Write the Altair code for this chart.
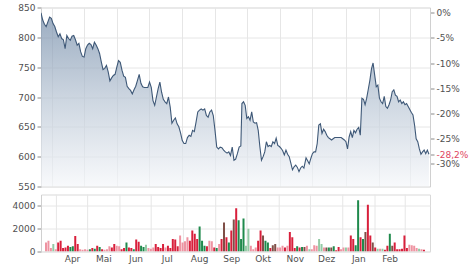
import altair as alt
import pandas as pd

# ---------------- data ----------------
x_start = "2023-03-22"
x_end = "2024-03-20"

# price trace, read in three stretches (start, end of each stretch)
seg_start = ["2023-03-22", "2023-09-26", "2023-11-25"]
seg_end = ["2023-09-25", "2023-11-23", "2024-03-19"]

close_a = [841, 829, 822, 818, 826, 834, 832, 823, 818, 809,
           801, 806, 798, 796, 781, 803, 798, 795, 802, 803,
           796, 787, 790, 776, 768, 767, 781, 787, 790, 788,
           781, 792, 787, 781, 773, 759, 746, 748, 753, 742,
           727, 732, 736, 738, 750, 761, 758, 745, 735, 733,
           718, 714, 711, 705, 712, 718, 728, 738, 723, 717,
           716, 716, 716, 725, 716, 694, 686, 700, 714, 725,
           708, 696, 692, 689, 700, 683, 656, 661, 665, 655,
           650, 640, 627, 622, 622, 632, 636, 634, 644, 642,
           658, 675, 678, 680, 678, 680, 669, 666, 675, 678,
           669, 644, 616, 613, 616, 615, 611, 608, 606, 608,
           602, 616, 594, 596, 605, 616, 618]
close_b = [689, 692, 686, 664, 667, 661, 675, 658, 656, 657,
           644, 617, 594, 600, 608, 625, 617, 619, 617, 625,
           622, 631, 619, 617, 614, 610, 603, 611, 604, 600,
           589, 578, 583, 586, 582, 575, 581, 584, 581]
close_c = [598, 593, 588, 597, 605, 608, 608, 622, 653, 655,
           639, 646, 642, 636, 632, 630, 628, 630, 632, 632,
           632, 632, 632, 630, 628, 625, 613, 633, 642, 632,
           644, 640, 646, 649, 636, 698, 696, 687, 698, 713,
           728, 747, 757, 737, 717, 720, 698, 692, 689, 701,
           684, 681, 687, 695, 709, 712, 703, 701, 692, 695,
           689, 692, 687, 689, 684, 679, 674, 670, 653, 630,
           625, 613, 604, 608, 611, 605, 611, 604]

volume = [800, 950, 300, 650, 200, 800, 950, 300, 350, 500,
          400, 450, 1350, 650, 200, 150, 200, 150, 200, 300,
          250, 500, 400, 200, 150, 200, 450, 350, 650, 500,
          450, 200, 300, 800, 350, 300, 200, 1050, 850, 500,
          400, 600, 300, 250, 350, 650, 400, 300, 650, 350,
          500, 300, 1100, 1050, 450, 1400, 800, 900, 1250, 950,
          1850, 1550, 1100, 2200, 950, 500, 450, 950, 900, 350,
          300, 650, 1100, 2550, 1250, 800, 1850, 2800, 3800, 2750,
          1100, 2900, 500, 2000, 500, 200, 350, 950, 1850, 1400,
          950, 800, 300, 550, 650, 350, 350, 500, 350, 500,
          1700, 1250, 300, 450, 350, 400, 400, 500, 200, 200,
          550, 500, 1100, 650, 350, 350, 350, 350, 450, 100,
          400, 200, 350, 350, 350, 1400, 1100, 550, 4500, 1250,
          1100, 1700, 4100, 1400, 800, 350, 250, 250, 250, 150,
          500, 1550, 500, 800, 200, 200, 250, 1400, 300, 600,
          550, 500, 300, 250, 200, 150]
vol_kind = ["p", "p", "p", "lg", "p", "r", "r", "r", "r", "r",
            "g", "g", "r", "r", "p", "p", "p", "p", "g", "r",
            "g", "r", "g", "r", "p", "p", "p", "r", "r", "p",
            "p", "r", "r", "g", "r", "r", "g", "r", "r", "g",
            "g", "lg", "p", "p", "p", "r", "r", "r", "r", "p",
            "r", "r", "r", "r", "r", "p", "p", "p", "p", "r",
            "r", "r", "r", "g", "g", "g", "r", "p", "p", "r",
            "g", "p", "r", "m", "r", "g", "r", "m", "r", "g",
            "g", "g", "lg", "lg", "p", "p", "p", "r", "r", "m",
            "g", "g", "r", "m", "m", "p", "p", "p", "r", "p",
            "r", "r", "r", "g", "r", "g", "m", "p", "lg", "p",
            "p", "p", "lg", "lg", "p", "m", "g", "m", "g", "r",
            "r", "p", "p", "lg", "p", "r", "r", "g", "g", "r",
            "g", "m", "r", "r", "m", "r", "lg", "p", "lg", "r",
            "r", "g", "m", "r", "r", "r", "r", "r", "r", "p",
            "p", "p", "p", "lg", "p", "r"]

month_starts = ["2023-04-01", "2023-05-01", "2023-06-01", "2023-07-01",
                "2023-08-01", "2023-09-01", "2023-10-01", "2023-11-01",
                "2023-12-01", "2024-01-01", "2024-02-01", "2024-03-01"]
month_mids = ["2023-04-16", "2023-05-16", "2023-06-16", "2023-07-16",
              "2023-08-16", "2023-09-16", "2023-10-16", "2023-11-16",
              "2023-12-16", "2024-01-16", "2024-02-15"]
month_names = ["Jan", "Feb", "Mär", "Apr", "Mai", "Jun",
               "Jul", "Aug", "Sep", "Okt", "Nov", "Dez"]

price_ticks = [550, 600, 650, 700, 750, 800, 850]
pct_ticks = [0, -0.05, -0.10, -0.15, -0.20, -0.25, -0.282, -0.30]
last_pct_label = "-28,2%"
vol_ticks = [0, 2000, 4000]

kind_names = ["r", "g", "p", "lg", "m"]
kind_colors = ["#d81f3b", "#1f8a4c", "#ee93a1", "#93caa5", "#7f4f47"]

# ---------------- frames ----------------
def dt(s):
    t = pd.Timestamp(s)
    return alt.DateTime(year=t.year, month=t.month, date=t.day)

parts = []
for s, e, vals in zip(seg_start, seg_end, [close_a, close_b, close_c]):
    parts.append(pd.DataFrame({"date": pd.date_range(s, e, periods=len(vals)),
                               "close": vals}))
price_df = pd.concat(parts, ignore_index=True)
base_price = close_a[0]

vol_df = pd.DataFrame({"date": pd.date_range(x_start, "2024-03-19", periods=len(volume)),
                       "volume": volume, "kind": vol_kind})
grid_df = pd.DataFrame({"date": pd.to_datetime(month_starts)})

x_dom = alt.Scale(domain=[dt(x_start), dt(x_end)])
W = 389

# ---------------- top panel ----------------
x_top = alt.X("date:T", scale=x_dom,
              axis=alt.Axis(values=[dt(m) for m in month_starts], grid=True,
                            labels=False, ticks=False, domain=False, title=None))

gradient = alt.Gradient(gradient="linear", x1=0, y1=0, x2=0, y2=1,
                        stops=[alt.GradientStop(color="#6f88a6", offset=0),
                               alt.GradientStop(color="#b8c5d4", offset=0.5),
                               alt.GradientStop(color="#f5f7fa", offset=1)])

area = alt.Chart(price_df).mark_area(
    color=gradient, clip=True,
    line={"color": "#3e5877", "strokeWidth": 1.1}
).encode(
    x=x_top,
    y=alt.Y("close:Q", scale=alt.Scale(domain=[550, 850], zero=False, nice=False),
            axis=alt.Axis(values=price_ticks, title=None, grid=True, domain=True,
                          labelFlush=False)),
    y2=alt.Y2(datum=550),
)

label_expr = ("(datum.value < -0.28 && datum.value > -0.29) ? '%s' : "
              "(round(datum.value * 100) + '%%')") % last_pct_label
pct_layer = alt.Chart(price_df).transform_calculate(
    pct="datum.close / %f - 1" % base_price
).mark_line(opacity=0).encode(
    x=x_top,
    y=alt.Y("pct:Q",
            scale=alt.Scale(domain=[550 / base_price - 1, 850 / base_price - 1],
                            zero=False, nice=False),
            axis=alt.Axis(orient="right", values=pct_ticks, title=None, grid=False,
                          labelOverlap=False, labelExpr=label_expr, labelFlush=False,
                          labelColor={"condition": {"test": "datum.value < -0.28 && datum.value > -0.29",
                                                    "value": "#e0455f"},
                                      "value": "#505050"})),
)

top = alt.layer(area, pct_layer).resolve_scale(y="independent").properties(
    width=W, height=179)

# ---------------- volume panel ----------------
names_js = "[" + ",".join("'%s'" % n for n in month_names) + "]"
x_vol = alt.X("date:T", scale=x_dom,
              axis=alt.Axis(values=[dt(m) for m in month_mids], grid=False,
                            ticks=False, domain=False, title=None, labelPadding=3,
                            labelFlush=False,
                            labelExpr=names_js + "[month(datum.value)]"))

rules = alt.Chart(grid_df).mark_rule(color="#e6e6e6", strokeWidth=1).encode(x=x_vol)
bars = alt.Chart(vol_df).mark_bar(size=2, clip=True).encode(
    x=x_vol,
    y=alt.Y("volume:Q", scale=alt.Scale(domain=[0, 5000], nice=False),
            axis=alt.Axis(values=vol_ticks, title=None, grid=True, format="d",
                          labelFlush=False)),
    color=alt.Color("kind:N", scale=alt.Scale(domain=kind_names, range=kind_colors),
                    legend=None),
)
vol = alt.layer(rules, bars).properties(width=W, height=57)

chart = alt.vconcat(top, vol, spacing=1).properties(
    padding={"left": 11, "top": 2.5, "right": 0, "bottom": 0},
).configure_axis(
    labelFont="DejaVu Sans", labelFontSize=9, labelColor="#505050",
    tickColor="#8a8a8a", tickSize=4, domainColor="#d0d0d0",
    gridColor="#e6e6e6",
).configure_view(stroke="#d9d9d9")

chart.save("out.html", embed_options={"renderer": "svg", "actions": False})
